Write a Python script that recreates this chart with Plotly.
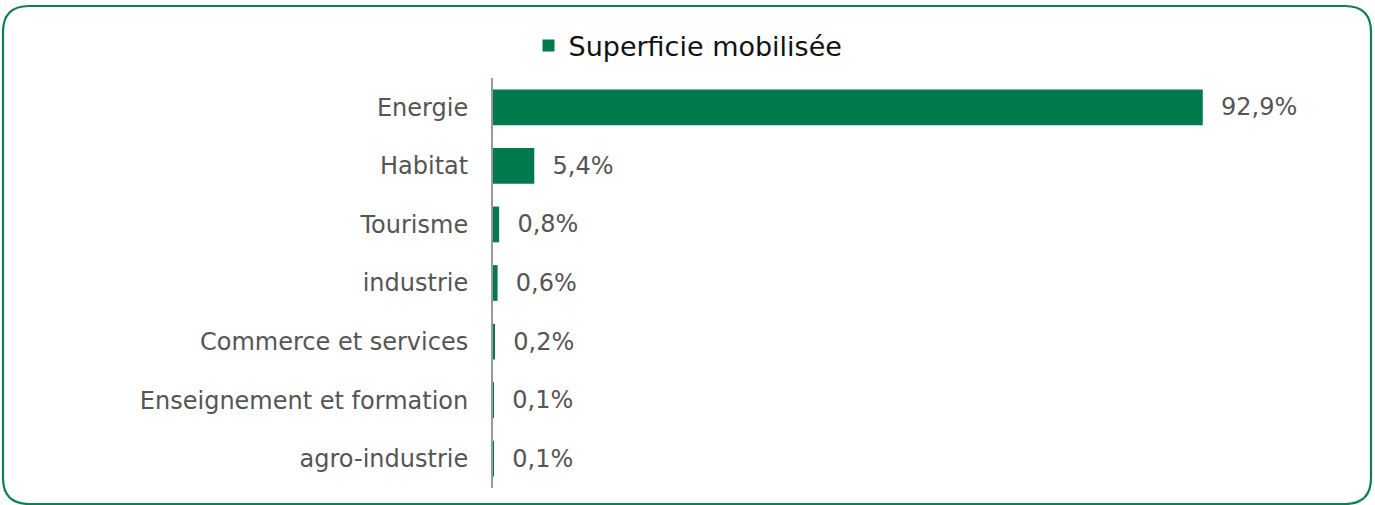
import plotly.graph_objects as go

categories = ["Energie", "Habitat", "Tourisme", "industrie", "Commerce et services",
              "Enseignement et formation", "agro-industrie"]
values = [92.9, 5.4, 0.8, 0.6, 0.2, 0.1, 0.1]
series_name = "Superficie mobilisée"

W, H = 1375, 505
ML, MR, MT, MB = 493, 118, 78, 17
XMAX = 100
GREEN = "#007A4D"
FONT = "DejaVu Sans"
TXT = "#555555"

pw = W - ML - MR
ph = H - MT - MB

def px_x(p):
    return (p - ML) / pw

def px_y(p):
    return (H - MB - p) / ph

fig = go.Figure()
fig.add_trace(go.Bar(
    y=categories, x=values, orientation="h", name=series_name,
    marker=dict(color=GREEN, line=dict(width=0)),
    text=[("\u00a0\u00a0" + f"{v:.1f}".replace(".", ",") + "%") for v in values],
    textposition="outside", cliponaxis=False,
    textfont=dict(family=FONT, size=24, color=TXT),
    showlegend=True,
))

# rounded border
x0, x1, y0, y1, r = 3, 1371, 6, 504, 26
path = (
    f"M {px_x(x0 + r)},{px_y(y0)} L {px_x(x1 - r)},{px_y(y0)} "
    f"Q {px_x(x1)},{px_y(y0)} {px_x(x1)},{px_y(y0 + r)} "
    f"L {px_x(x1)},{px_y(y1 - r)} Q {px_x(x1)},{px_y(y1)} {px_x(x1 - r)},{px_y(y1)} "
    f"L {px_x(x0 + r)},{px_y(y1)} Q {px_x(x0)},{px_y(y1)} {px_x(x0)},{px_y(y1 - r)} "
    f"L {px_x(x0)},{px_y(y0 + r)} Q {px_x(x0)},{px_y(y0)} {px_x(x0 + r)},{px_y(y0)} Z"
)

fig.update_layout(
    width=W, height=H,
    margin=dict(l=ML, r=MR, t=MT, b=MB, pad=0),
    paper_bgcolor="white", plot_bgcolor="white",
    bargap=0.39,
    font=dict(family=FONT, color=TXT),
    showlegend=True,
    legend=dict(orientation="h", x=px_x(688), xanchor="center", y=px_y(46), yanchor="middle",
                font=dict(family=FONT, size=27, color="#111111"),
                itemwidth=30, bgcolor="rgba(0,0,0,0)"),
    xaxis=dict(range=[0, XMAX], showgrid=False, zeroline=False, showticklabels=False,
               showline=False, fixedrange=True),
    yaxis=dict(autorange="reversed", showgrid=False, zeroline=False, fixedrange=True,
               showline=True, linecolor="#999999", linewidth=2,
               ticks="", ticklabelstandoff=18,
               tickfont=dict(family=FONT, size=24, color=TXT)),
    shapes=[dict(type="path", xref="paper", yref="paper", path=path,
                 line=dict(color="#0E7F55", width=2.2), fillcolor="rgba(0,0,0,0)", layer="above")],
)

fig.write_html("out.html", config={"displayModeBar": False},
               post_script="document.body.style.margin='0';document.body.style.padding='0';")
